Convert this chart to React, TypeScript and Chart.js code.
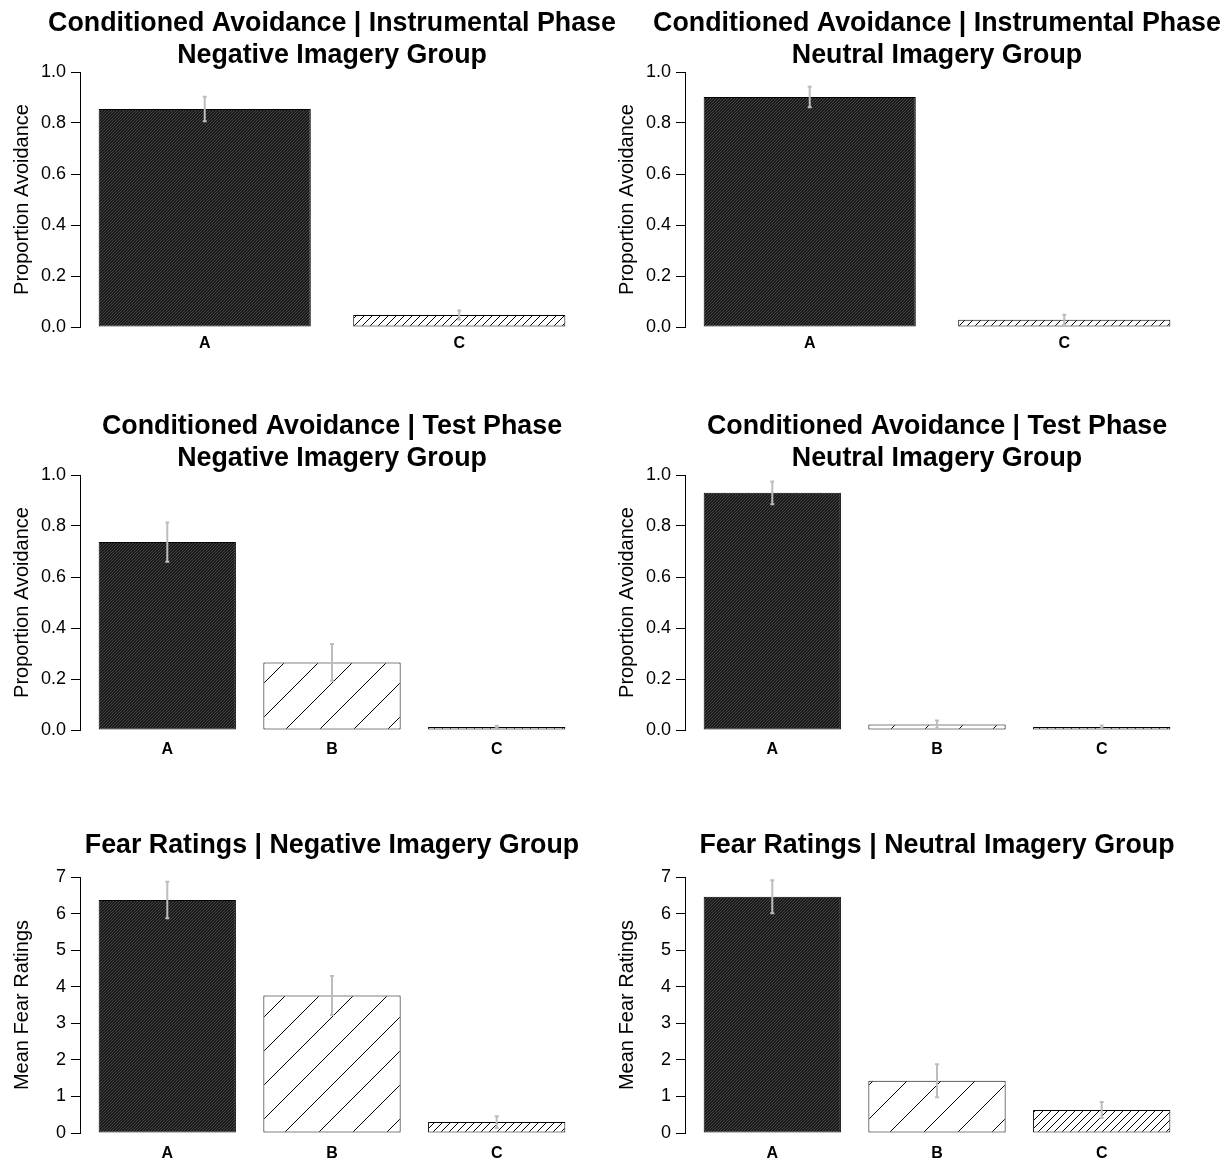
import React, { useEffect, useRef } from 'react';
import { Chart, registerables } from 'chart.js';

Chart.register(...registerables);

const FONT = '"Liberation Sans", Arial, Helvetica, sans-serif';

// ---- data ----
const instrumentalCategories = ['A', 'C'];
const testCategories = ['A', 'B', 'C'];
const fearCategories = ['A', 'B', 'C'];

const negInstrumentalMeans = [0.855, 0.047];
const negInstrumentalErrors = [0.048, 0.018];
const neuInstrumentalMeans = [0.902, 0.028];
const neuInstrumentalErrors = [0.04, 0.02];

const negTestMeans = [0.737, 0.265, 0.012];
const negTestErrors = [0.077, 0.072, 0.005];
const neuTestMeans = [0.93, 0.022, 0.012];
const neuTestErrors = [0.045, 0.015, 0.006];

const negFearMeans = [6.37, 3.76, 0.3];
const negFearErrors = [0.5, 0.535, 0.16];
const neuFearMeans = [6.46, 1.43, 0.63];
const neuFearErrors = [0.45, 0.45, 0.22];

const proportionTicks = [0, 0.2, 0.4, 0.6, 0.8, 1.0];
const fearTicks = [0, 1, 2, 3, 4, 5, 6, 7];

const hatchByCategory: Record<string, string> = { A: 'dense', B: 'sparse', C: 'medium' };

type PanelDef = {
  left: number;
  top: number;
  height: number;
  areaBottom: number;
  titleY: number;
  labelPad: number;
  title: string[];
  categories: string[];
  means: number[];
  errors: number[];
  yTitle: string;
  yTicks: number[];
  decimals: number;
};

const panels: PanelDef[] = [
  { left: 0, top: 0, height: 403, areaBottom: 327, titleY: 23.5, labelPad: 7, title: ['Conditioned Avoidance | Instrumental Phase', 'Negative Imagery Group'], categories: instrumentalCategories, means: negInstrumentalMeans, errors: negInstrumentalErrors, yTitle: 'Proportion Avoidance', yTicks: proportionTicks, decimals: 1 },
  { left: 605, top: 0, height: 403, areaBottom: 327, titleY: 23.5, labelPad: 7, title: ['Conditioned Avoidance | Instrumental Phase', 'Neutral Imagery Group'], categories: instrumentalCategories, means: neuInstrumentalMeans, errors: neuInstrumentalErrors, yTitle: 'Proportion Avoidance', yTicks: proportionTicks, decimals: 1 },
  { left: 0, top: 403, height: 402, areaBottom: 327, titleY: 24, labelPad: 10, title: ['Conditioned Avoidance | Test Phase', 'Negative Imagery Group'], categories: testCategories, means: negTestMeans, errors: negTestErrors, yTitle: 'Proportion Avoidance', yTicks: proportionTicks, decimals: 1 },
  { left: 605, top: 403, height: 402, areaBottom: 327, titleY: 24, labelPad: 10, title: ['Conditioned Avoidance | Test Phase', 'Neutral Imagery Group'], categories: testCategories, means: neuTestMeans, errors: neuTestErrors, yTitle: 'Proportion Avoidance', yTicks: proportionTicks, decimals: 1 },
  { left: 0, top: 805, height: 354, areaBottom: 328, titleY: 41, labelPad: 11, title: ['Fear Ratings | Negative Imagery Group'], categories: fearCategories, means: negFearMeans, errors: negFearErrors, yTitle: 'Mean Fear Ratings', yTicks: fearTicks, decimals: 0 },
  { left: 605, top: 805, height: 354, areaBottom: 328, titleY: 41, labelPad: 11, title: ['Fear Ratings | Neutral Imagery Group'], categories: fearCategories, means: neuFearMeans, errors: neuFearErrors, yTitle: 'Mean Fear Ratings', yTicks: fearTicks, decimals: 0 },
];

const CANVAS_W = 620;
const AREA_LEFT = 80;
const AREA_RIGHT = 584;
const AREA_TOP = 72;
const XAXIS_H = 26;
const TITLE_SIZE = 26.8;
const TITLE_LINE = 32;

function makeHatch(kind: string): CanvasPattern | string {
  const c = document.createElement('canvas');
  const ctx = c.getContext('2d');
  if (!ctx) return '#222';
  if (kind === 'dense') {
    c.width = 3;
    c.height = 3;
    ctx.fillStyle = '#1a1a1a';
    ctx.fillRect(0, 0, 3, 3);
    ctx.fillStyle = '#444444';
    ctx.fillRect(2, 0, 1, 1);
    ctx.fillRect(1, 1, 1, 1);
    ctx.fillRect(0, 2, 1, 1);
  } else {
    const s = kind === 'sparse' ? 34 : 8;
    c.width = s;
    c.height = s;
    ctx.fillStyle = '#ffffff';
    ctx.fillRect(0, 0, s, s);
    ctx.strokeStyle = '#000000';
    ctx.lineWidth = 1;
    ctx.beginPath();
    ctx.moveTo(-1, s + 1);
    ctx.lineTo(s + 1, -1);
    ctx.moveTo(-2, 2);
    ctx.lineTo(2, -2);
    ctx.moveTo(s - 2, s + 2);
    ctx.lineTo(s + 2, s - 2);
    ctx.stroke();
  }
  return ctx.createPattern(c, 'repeat') || '#222';
}

function makeErrorPlugin(means: number[], errors: number[]) {
  return {
    id: 'errorBars',
    afterDatasetsDraw(chart: any) {
      const ctx = chart.ctx;
      const meta = chart.getDatasetMeta(0);
      const y = chart.scales.y;
      ctx.save();
      ctx.strokeStyle = '#bdbdbd';
      ctx.lineWidth = 2;
      meta.data.forEach((bar: any, i: number) => {
        const x = bar.x;
        const hi = y.getPixelForValue(means[i] + errors[i]);
        const lo = y.getPixelForValue(Math.max(0, means[i] - errors[i]));
        ctx.beginPath();
        ctx.moveTo(x, hi);
        ctx.lineTo(x, lo);
        ctx.moveTo(x - 2, hi);
        ctx.lineTo(x + 2, hi);
        ctx.moveTo(x - 2, lo);
        ctx.lineTo(x + 2, lo);
        ctx.stroke();
      });
      ctx.restore();
    },
  };
}

function makeTitlePlugin(lines: string[], firstY: number) {
  return {
    id: 'panelTitle',
    afterDraw(chart: any) {
      const ctx = chart.ctx;
      const area = chart.chartArea;
      const x = (area.left + area.right) / 2;
      ctx.save();
      ctx.fillStyle = '#000000';
      ctx.font = `bold ${TITLE_SIZE}px ${FONT}`;
      ctx.textAlign = 'center';
      ctx.textBaseline = 'middle';
      lines.forEach((line, i) => ctx.fillText(line, x, firstY + i * TITLE_LINE));
      ctx.restore();
    },
  };
}

function Panel({ def }: { def: PanelDef }) {
  const ref = useRef<HTMLCanvasElement | null>(null);
  useEffect(() => {
    if (!ref.current) return;
    const n = def.categories.length;
    // R barplot geometry: bar width 1, space 0.2
    const centers = def.categories.map((_, i) => 0.7 + 1.2 * i);
    const lo = 0.2;
    const hi = 1.2 * n;
    const ext = (hi - lo) * 0.04;
    const chart = new Chart(ref.current, {
      type: 'bar',
      data: {
        datasets: [
          {
            data: def.means.map((m, i) => ({ x: centers[i], y: m })),
            backgroundColor: def.categories.map((c) => makeHatch(hatchByCategory[c])),
            borderColor: '#000000',
            borderWidth: 1,
            borderSkipped: false,
            categoryPercentage: 1,
            barPercentage: 1 / 1.2,
          } as any,
        ],
      },
      options: {
        responsive: false,
        animation: false,
        events: [],
        layout: {
          padding: { left: 0, top: AREA_TOP, right: CANVAS_W - AREA_RIGHT, bottom: def.height - def.areaBottom - XAXIS_H },
        },
        plugins: {
          legend: { display: false },
          tooltip: { enabled: false },
          title: { display: false },
        },
        scales: {
          x: {
            type: 'linear',
            min: lo - ext,
            max: hi + ext,
            offset: false,
            afterBuildTicks: (scale: any) => {
              scale.ticks = centers.map((v) => ({ value: v }));
            },
            afterFit: (scale: any) => {
              scale.height = XAXIS_H;
            },
            grid: { display: false, drawTicks: false },
            border: { display: false },
            ticks: {
              autoSkip: false,
              maxRotation: 0,
              padding: def.labelPad,
              color: '#000000',
              font: { family: FONT, size: 16, weight: 'bold' },
              callback: (_v: any, i: number) => def.categories[i],
            },
          },
          y: {
            type: 'linear',
            min: def.yTicks[0],
            max: def.yTicks[def.yTicks.length - 1],
            afterBuildTicks: (scale: any) => {
              scale.ticks = def.yTicks.map((v) => ({ value: v }));
            },
            afterFit: (scale: any) => {
              scale.width = AREA_LEFT;
            },
            grid: {
              display: true,
              drawOnChartArea: false,
              drawTicks: true,
              tickLength: 9,
              color: '#000000',
              lineWidth: 1,
            },
            border: { display: true, color: '#000000', width: 1 },
            ticks: {
              padding: 5,
              color: '#000000',
              font: { family: FONT, size: 18 },
              callback: (v: any) => Number(v).toFixed(def.decimals),
            },
            title: {
              display: true,
              text: def.yTitle,
              color: '#000000',
              font: { family: FONT, size: 20, lineHeight: 1.2 },
              padding: { top: 10, bottom: 0 },
            },
          },
        },
      } as any,
      plugins: [makeErrorPlugin(def.means, def.errors), makeTitlePlugin(def.title, def.titleY)],
    });
    return () => chart.destroy();
  }, [def]);
  return (
    <canvas
      ref={ref}
      width={CANVAS_W}
      height={def.height}
      style={{ position: 'absolute', left: def.left, top: def.top, width: CANVAS_W, height: def.height }}
    />
  );
}

export default function App() {
  useEffect(() => {
    document.body.style.margin = '0';
    document.body.style.background = '#ffffff';
  }, []);
  return (
    <div style={{ position: 'relative', width: 1225, height: 1159, background: '#ffffff', overflow: 'hidden' }}>
      {panels.map((p, i) => (
        <Panel key={i} def={p} />
      ))}
    </div>
  );
}
